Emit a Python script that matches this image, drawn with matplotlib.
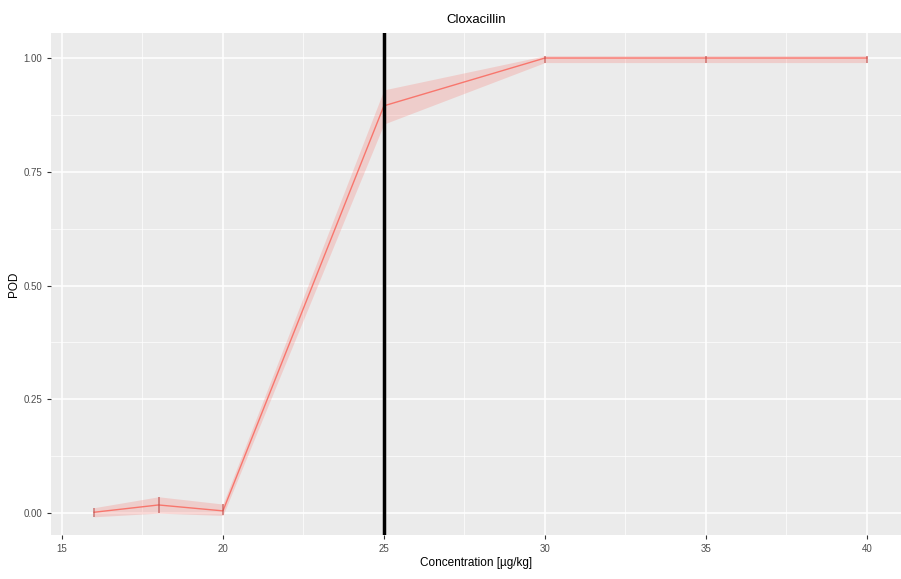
import matplotlib
matplotlib.use("Agg")
import matplotlib.pyplot as plt
import numpy as np

plt.rcParams["font.family"] = ["Liberation Sans", "DejaVu Sans"]

conc = [16, 18, 20, 25, 30, 35, 40]
pod = [0.002, 0.018, 0.005, 0.895, 1.0, 1.0, 1.0]
pod_low = [-0.008, 0.0, -0.005, 0.855, 0.99, 0.99, 0.99]
pod_high = [0.012, 0.036, 0.02, 0.93, 1.005, 1.005, 1.005]

fig = plt.figure(figsize=(9.01, 5.79), dpi=100)
ax = fig.add_axes([51 / 901, 44 / 579, 850 / 901, 502 / 579])
ax.set_facecolor("#ebebeb")

ax.fill_between(conc, pod_low, pod_high, color="#f8766d", alpha=0.25, lw=0)
ax.plot(conc, pod, color="#f8766d", lw=1)
ax.errorbar(conc, pod, yerr=[np.array(pod) - np.array(pod_low), np.array(pod_high) - np.array(pod)],
            fmt="none", ecolor="#c0504d", elinewidth=1.2, capsize=0, alpha=0.7)
ax.axvline(25, color="black", lw=2.5)

ax.set_xlim(14.66, 41.06)
ax.set_ylim(-0.048, 1.055)
ax.set_xticks([15, 20, 25, 30, 35, 40])
ax.set_yticks([0, 0.25, 0.5, 0.75, 1.0])
ax.set_yticklabels(["0.00", "0.25", "0.50", "0.75", "1.00"])
ax.set_xticks([17.5, 22.5, 27.5, 32.5, 37.5], minor=True)
ax.set_yticks([0.125, 0.375, 0.625, 0.875], minor=True)
ax.grid(which="major", color="white", lw=1.1)
ax.grid(which="minor", color="white", lw=0.5)
ax.set_axisbelow(True)
for s in ax.spines.values():
    s.set_visible(False)
ax.tick_params(which="major", length=3, color="#333333", labelsize=7, labelcolor="#4d4d4d")
ax.tick_params(which="minor", length=0)

ax.set_xlabel("Concentration [µg/kg]", fontsize=8.5, labelpad=2)
ax.set_ylabel("POD", fontsize=8.5, labelpad=2)
ax.set_title("Cloxacillin", fontsize=9.5, pad=7)

fig.savefig("out.png", dpi=100)
